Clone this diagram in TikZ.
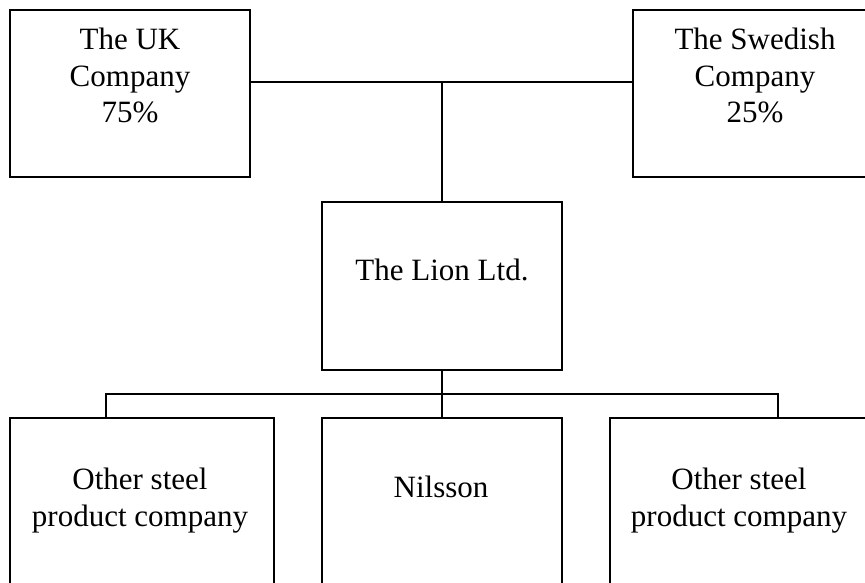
\documentclass[tikz,border=0pt]{standalone}
\usepackage{fontspec}
\setmainfont{Liberation Serif}
\begin{document}
\begin{tikzpicture}[x=1pt,y=-1pt,
  box/.style={draw=black,line width=1.6pt},
  conn/.style={draw=black,line width=1.6pt},
  lbl/.style={font=\fontsize{31}{36.5}\selectfont,align=center,anchor=base,inner sep=0pt}]
\useasboundingbox (0,0) rectangle (865,583);
\clip (0,0) rectangle (865,583);
% boxes
\draw[box] (10,10) rectangle (250,177);
\draw[box] (633,10) rectangle (880,177);
\draw[box] (322,202) rectangle (562,370);
\draw[box] (10,418) rectangle (274,600);
\draw[box] (322,418) rectangle (562,600);
\draw[box] (610,418) rectangle (880,600);
% connector points
\coordinate (ukR) at (250,82);
\coordinate (swL) at (633,82);
\coordinate (topJ) at (442,82);
\coordinate (lionT) at (442,202);
\coordinate (lionB) at (442,370);
\coordinate (busM) at (442,394);
\coordinate (busL) at (106,394);
\coordinate (busR) at (778,394);
\coordinate (blT) at (106,418);
\coordinate (bmT) at (442,418);
\coordinate (brT) at (778,418);
\draw[conn] (ukR) -- (swL);
\draw[conn] (topJ) -- (lionT);
\draw[conn] (lionB) -- (bmT);
\draw[conn] (blT) -- (busL) -- (busR) -- (brT);
% labels
\node[lbl] (uk) at (130,123) {The UK\\Company\\75\%};
\node[lbl] (sw) at (755,123) {The Swedish\\Company\\25\%};
\node[lbl] (lion) at (442,280) {The Lion Ltd.};
\node[lbl] (bl) at (140,526) {Other steel\\product company};
\node[lbl] (bm) at (441,497) {Nilsson};
\node[lbl] (br) at (739,526) {Other steel\\product company};
\end{tikzpicture}
\end{document}
